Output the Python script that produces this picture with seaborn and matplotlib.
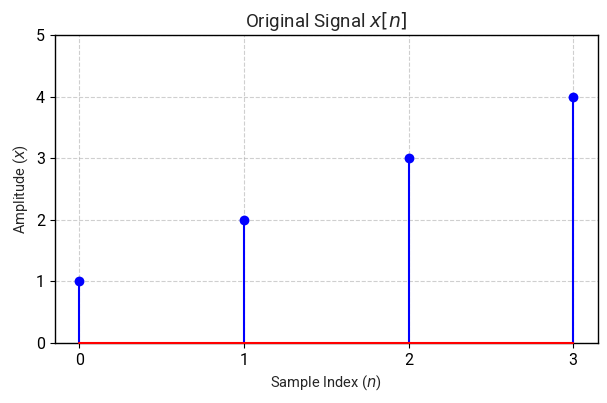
import numpy as np
import pandas as pd
import seaborn as sns
import matplotlib.pyplot as plt

n = [0, 1, 2, 3]
x = [1, 2, 3, 4]

sns.set_style("ticks")
plt.rcParams['font.family'] = ['Roboto', 'DejaVu Sans']
plt.rcParams['axes.edgecolor'] = 'black'
plt.rcParams['xtick.color'] = 'black'
plt.rcParams['ytick.color'] = 'black'

df = pd.DataFrame({'n': n, 'x': x})

fig, ax = plt.subplots(figsize=(6.07, 4.03), dpi=100)
ax.vlines(df['n'], 0, df['x'], color='b', linewidth=1.5, zorder=2)
sns.scatterplot(data=df, x='n', y='x', color='b', s=50, edgecolor='b', linewidth=0, ax=ax, zorder=3)
ax.plot([min(n), max(n)], [0, 0], color='r', linewidth=1.5, zorder=4, clip_on=False)

ax.set_title('Original Signal $x[n]$', fontsize=13.5)
ax.set_xlabel('Sample Index ($n$)', fontsize=10.5)
ax.set_ylabel('Amplitude ($x$)', fontsize=10.5)
ax.set_xticks(n)
ax.set_ylim(0, 5)
ax.set_xlim(-0.15, 3.15)
ax.tick_params(labelsize=11.5)
ax.grid(True, linestyle='--', color='#b0b0b0', alpha=0.6)
for s in ax.spines.values():
    s.set_linewidth(1.0)

plt.subplots_adjust(left=0.09, right=0.985, top=0.913, bottom=0.149)
plt.savefig('out.png', dpi=100)
